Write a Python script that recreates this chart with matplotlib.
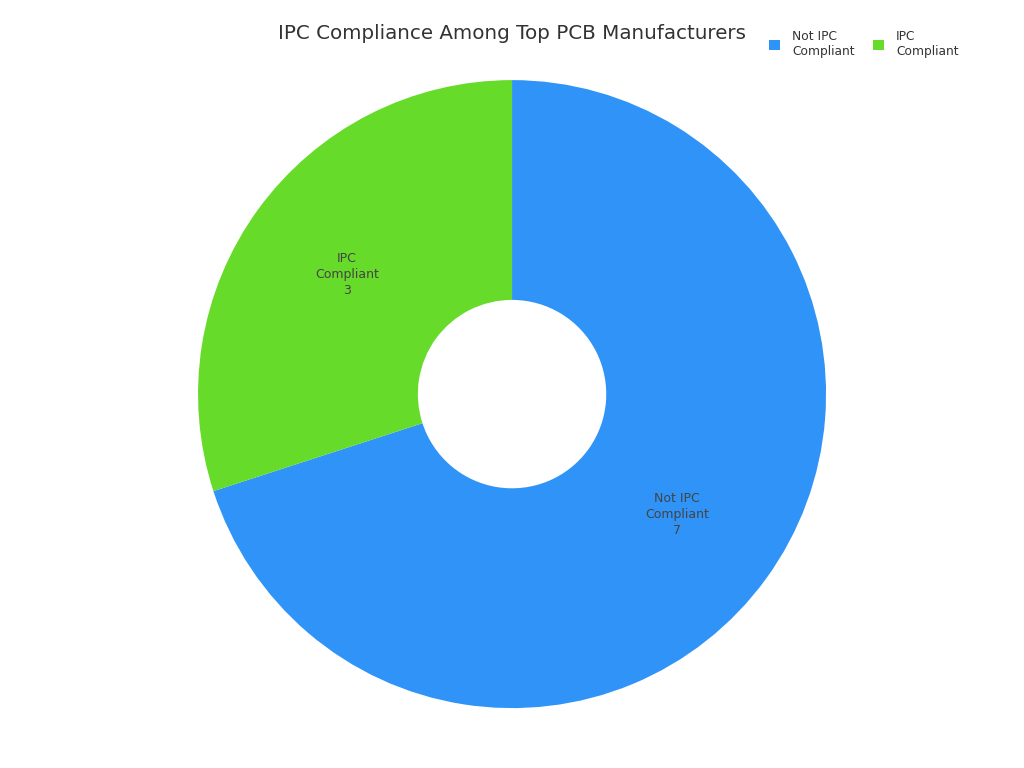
import numpy as np
import matplotlib.pyplot as plt

# data
labels = ['Not IPC\nCompliant', 'IPC\nCompliant']
values = [7, 3]
colors = ['#2F93F8', '#66DB2A']

fig = plt.figure(figsize=(10.24, 7.68), dpi=100)
ax = fig.add_axes([0.1934, 0.078, 0.6133, 0.8177])

wedges, _ = ax.pie(values, colors=colors, startangle=90, counterclock=False,
                   radius=1.0, wedgeprops=dict(width=0.7, linewidth=0))

# labels inside the ring
for w, lab, v in zip(wedges, labels, values):
    ang = np.deg2rad((w.theta1 + w.theta2) / 2)
    r = 0.65
    ax.text(r * np.cos(ang), r * np.sin(ang), f'{lab}\n{v}', ha='center', va='center',
            fontsize=9, color='#444444', linespacing=1.3)

ax.set_xlim(-1, 1)
ax.set_ylim(-1, 1)
ax.set_aspect('equal')
ax.axis('off')

fig.text(0.5, 0.957, 'IPC Compliance Among Top PCB Manufacturers', ha='center', va='center',
         fontsize=14.3, color='#333333')

fig.legend(wedges, labels, loc='upper right', bbox_to_anchor=(0.947, 0.975), ncol=2,
           frameon=False, fontsize=8.8, handlelength=0.9, handleheight=0.9,
           columnspacing=1.5, handletextpad=1.0, labelcolor='#333333')

fig.savefig('out.png', dpi=100)
